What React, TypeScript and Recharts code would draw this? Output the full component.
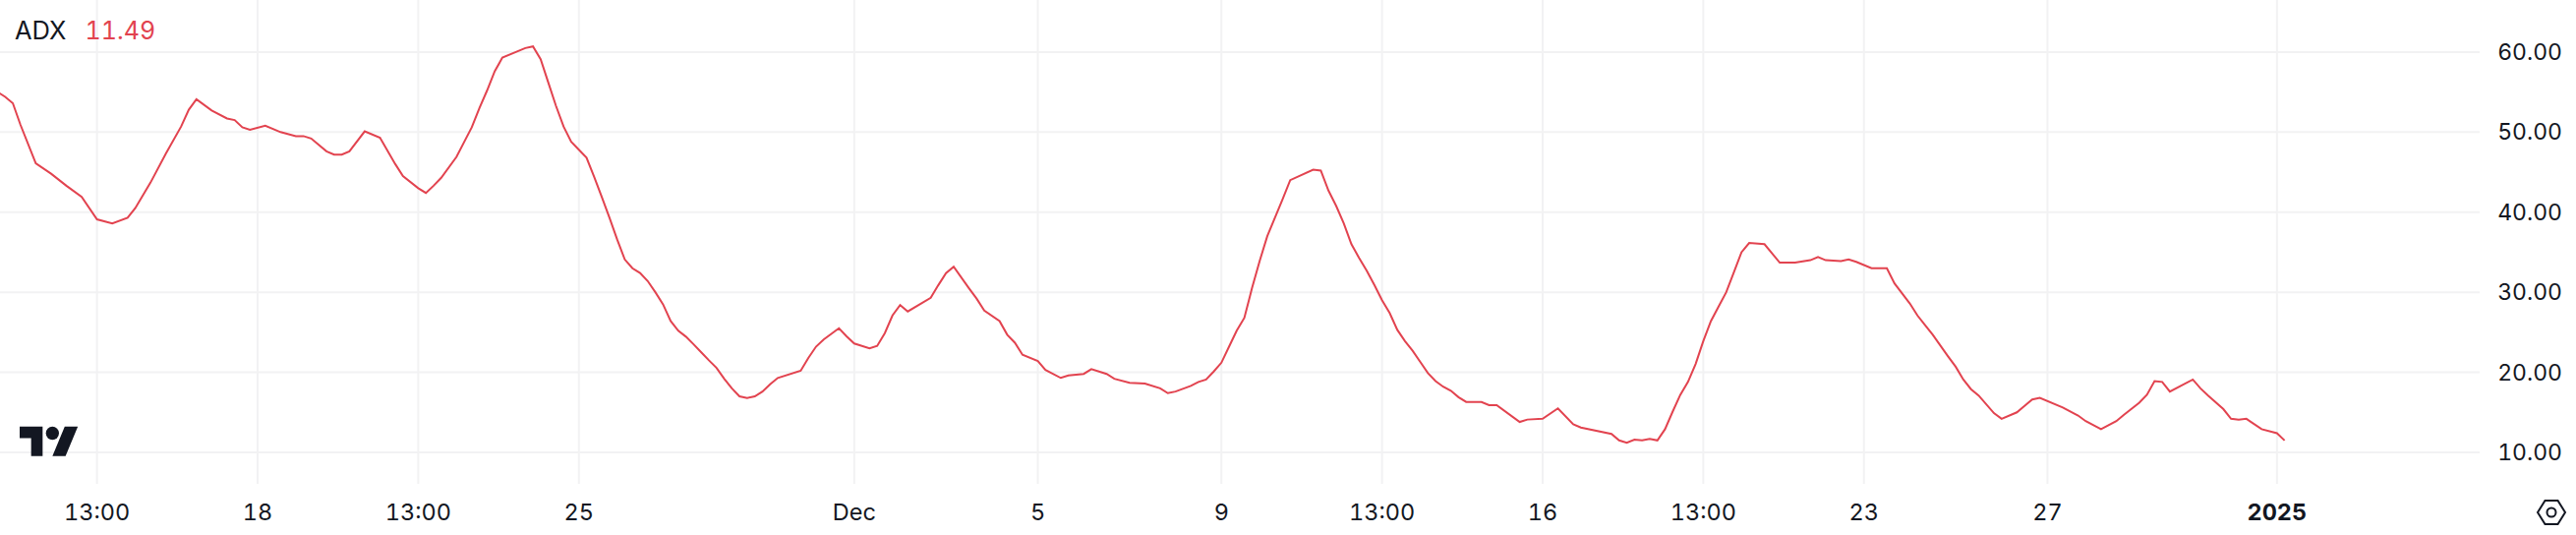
import React from 'react';
import { LineChart, Line, XAxis, YAxis, CartesianGrid } from 'recharts';

// 4h bars counted from Nov 18 00:00, only the vertices that shape the line
const barIndex = [
  -34, -33, -32, -31, -29, -27, -25, -23, -21, -19, -17, -16, -14, -12, -10, -9, -8, -6, -4, -3, -2, -1, 1, 3, 5, 6, 7, 9, 10, 11, 12, 14, 16, 18, 19, 21, 22, 23, 24, 26, 28, 29, 30, 31, 32, 34, 35, 36, 37, 38, 39, 40, 41, 42, 43, 44, 45, 46, 47, 48, 49, 50,
  51, 52, 53, 54, 55, 56, 57, 58, 59, 60, 61, 62, 63, 64, 65, 66, 67, 68, 71, 72, 73, 74, 76, 77, 78, 80, 81, 82, 83, 84, 85, 88, 89, 90, 91, 93, 94, 95, 97, 98, 99, 100, 102, 103, 105, 106, 108, 109, 111, 112, 114, 116, 118, 119, 120, 122, 123, 124, 125, 126, 127, 128, 129, 130, 131, 132, 133, 134,
  135, 138, 139, 140, 141, 142, 143, 144, 145, 146, 147, 148, 149, 150, 151, 152, 153, 154, 155, 156, 157, 158, 160, 161, 162, 165, 166, 168, 170, 172, 173, 177, 178, 179, 180, 181, 182, 183, 184, 185, 186, 187, 188, 189, 190, 191, 192, 193, 194, 195, 197, 199, 201, 203, 204, 205, 207, 208, 209, 211, 213, 214, 216, 217, 218,
  219, 221, 222, 223, 224, 225, 227, 228, 230, 231, 232, 233, 236, 238, 239, 241, 243, 244, 246, 247, 248, 249, 250, 253, 254, 255, 257, 258, 259, 260, 262, 264, 265,
];

const adx = [
  55.0, 54.4, 53.6, 50.9, 46.1, 44.8, 43.3, 41.9, 39.1, 38.6, 39.3, 40.5, 43.7, 47.3, 50.7, 52.8, 54.1, 52.7, 51.7, 51.5, 50.6, 50.3, 50.8, 50.0, 49.5, 49.5, 49.2, 47.6, 47.2, 47.2, 47.6, 50.1, 49.3, 46.0, 44.5, 43.0, 42.4, 43.3, 44.3, 46.9, 50.6, 53.0, 55.2, 57.6, 59.3, 60.1, 60.5, 60.7, 59.1, 56.2, 53.3, 50.7, 48.8, 47.8, 46.8, 44.4, 41.9, 39.3, 36.6, 34.1, 33.0, 32.4,
  31.4, 30.0, 28.5, 26.4, 25.2, 24.45, 23.5, 22.5, 21.5, 20.55, 19.2, 18.0, 17.0, 16.8, 17.0, 17.6, 18.5, 19.3, 20.2, 21.8, 23.2, 24.1, 25.5, 24.5, 23.6, 23.0, 23.3, 24.9, 27.1, 28.4, 27.6, 29.3, 30.9, 32.4, 33.2, 30.5, 29.2, 27.7, 26.4, 24.7, 23.7, 22.2, 21.4, 20.3, 19.3, 19.6, 19.8, 20.4, 19.8, 19.2, 18.7, 18.6, 18.0, 17.4, 17.6, 18.3, 18.8, 19.1, 20.1, 21.2, 23.2, 25.2, 26.8, 30.5, 33.9, 37.0, 39.3, 41.6,
  44.0, 45.3, 45.2, 42.7, 40.8, 38.6, 36.0, 34.3, 32.7, 30.9, 29.0, 27.4, 25.3, 23.9, 22.7, 21.3, 19.9, 18.9, 18.2, 17.7, 16.9, 16.3, 16.3, 15.9, 15.9, 13.8, 14.1, 14.2, 15.5, 13.5, 13.1, 12.3, 11.5, 11.2, 11.6, 11.5, 11.7, 11.5, 12.9, 15.1, 17.2, 18.8, 21.05, 23.9, 26.4, 28.2, 30.0, 32.5, 35.0, 36.15, 36.0, 33.7, 33.7, 34.0, 34.4, 34.0, 33.9, 34.1, 33.8, 33.0, 33.0, 31.1, 28.6, 27.1, 25.9,
  24.7, 22.0, 20.7, 19.1, 17.9, 17.1, 14.9, 14.2, 15.0, 15.8, 16.6, 16.8, 15.6, 14.6, 13.9, 12.9, 13.9, 14.7, 16.2, 17.2, 18.9, 18.8, 17.6, 19.1, 18.0, 17.1, 15.4, 14.2, 14.1, 14.2, 12.9, 12.4, 11.49,
];

const xTicks = [-21, 0, 21, 42, 78, 102, 126, 147, 168, 189, 210, 234, 264];
const xLabels = ['13:00', '18', '13:00', '25', 'Dec', '5', '9', '13:00', '16', '13:00', '23', '27', '2025'];
const yTicks = [10, 20, 30, 40, 50, 60];

const chartData = barIndex.map((bar, i) => ({ bar, adx: adx[i] }));

const FONT = 'Inter, sans-serif';
const INK = '#131722';
const RED = '#e2434f';
const GRID = '#f2f2f3';
const TNUM = { fontVariantNumeric: 'tabular-nums' };

const XTick = ({ x, y, payload }: any) => {
  const label = xLabels[xTicks.indexOf(payload.value)];
  return (
    <text x={x} y={y + 29} textAnchor="middle" fontFamily={FONT} fontSize={23.5} fontWeight={label === '2025' ? 700 : 400} fill={INK} style={TNUM}>
      {label}
    </text>
  );
};

const YTick = ({ y, payload }: any) => (
  <text x={2606} y={y + 8} textAnchor="end" fontFamily={FONT} fontSize={23} fill={INK} style={TNUM}>
    {payload.value.toFixed(2)}
  </text>
);

export default function App() {
  return (
    <div style={{ position: 'absolute', left: 0, top: 0, width: 2620, height: 544, background: '#fff', overflow: 'hidden' }}>
      <LineChart width={2620} height={544} data={chartData} margin={{ top: 0, right: 0, bottom: 0, left: 0 }}>
        <CartesianGrid stroke={GRID} strokeWidth={2} syncWithTicks />
        <XAxis
          dataKey="bar"
          type="number"
          domain={[-33.68, 290.5]}
          allowDataOverflow
          ticks={xTicks}
          interval={0}
          height={52}
          axisLine={false}
          tickLine={false}
          tick={<XTick />}
        />
        <YAxis
          orientation="right"
          type="number"
          domain={[6.07, 66.5]}
          allowDataOverflow
          ticks={yTicks}
          interval={0}
          width={98}
          axisLine={false}
          tickLine={false}
          tick={<YTick />}
        />
        <Line type="linear" dataKey="adx" stroke={RED} strokeWidth={2} dot={false} isAnimationActive={false} />
      </LineChart>

      <div style={{ position: 'absolute', left: 15, top: 16, fontFamily: FONT, fontSize: 25.5, lineHeight: '30px', color: INK, whiteSpace: 'pre', ...TNUM }}>
        ADX<span style={{ color: RED, marginLeft: 19, fontSize: 25 }}>11.49</span>
      </div>

      {/* TradingView mark */}
      <svg style={{ position: 'absolute', left: 20, top: 427 }} width={60} height={47} viewBox="0 0 36 28" fill={INK}>
        <path d="M14 22H7V11H0V4h14v18zM28 22h-8l7.5-18h8L28 22z" />
        <circle cx="20" cy="8" r="4" />
      </svg>

      {/* settings hexagon */}
      <svg style={{ position: 'absolute', left: 2579, top: 506 }} width={32} height={30} viewBox="0 0 32 30" fill="none" stroke={INK} strokeWidth={2}>
        <path d="M9.5 3h13L30 15l-7.5 12h-13L2 15z" />
        <circle cx="16" cy="15" r="4.5" />
      </svg>
    </div>
  );
}
